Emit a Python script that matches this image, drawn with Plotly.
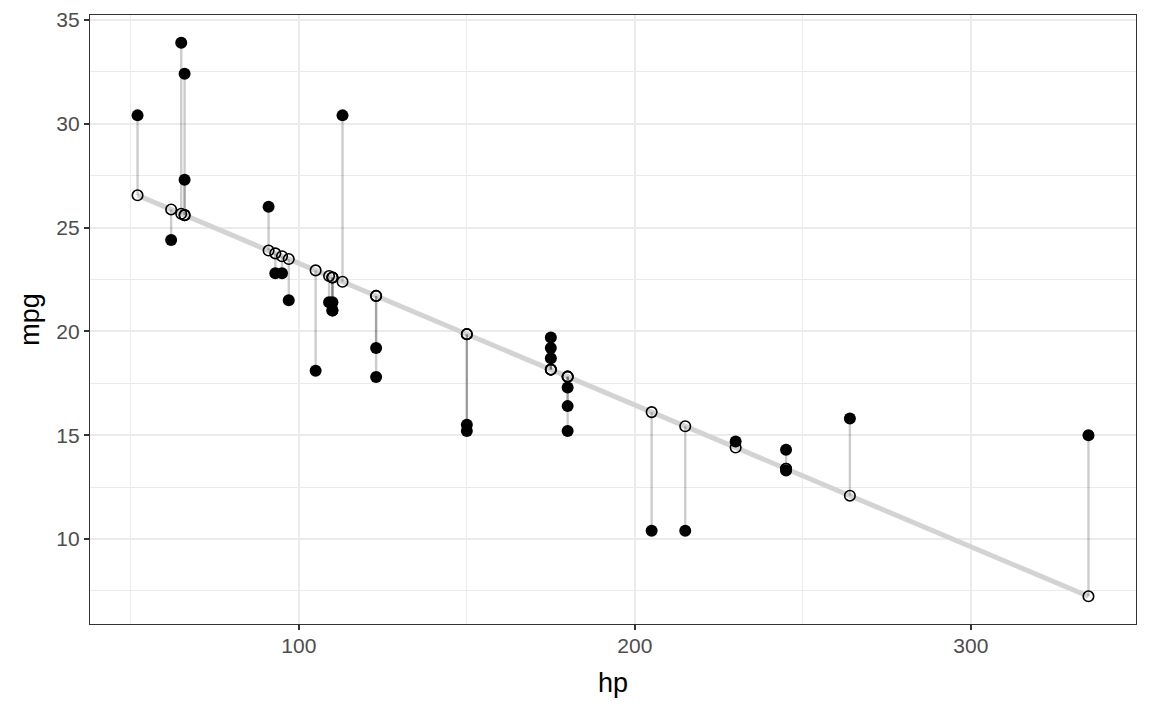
import plotly.graph_objects as go

# mtcars: potência (hp) e consumo (mpg)
hp = [110, 110, 93, 110, 175, 105, 245, 62, 95, 123, 123, 180, 180, 180, 205, 215,
      230, 66, 52, 65, 97, 150, 150, 245, 175, 66, 91, 113, 264, 175, 335, 109]
mpg = [21.0, 21.0, 22.8, 21.4, 18.7, 18.1, 14.3, 24.4, 22.8, 19.2, 17.8, 16.4, 17.3, 15.2,
       10.4, 10.4, 14.7, 32.4, 30.4, 33.9, 21.5, 15.5, 15.2, 13.3, 19.2, 27.3, 26.0, 30.4,
       15.8, 19.7, 15.0, 21.4]
# valores ajustados pela regressão linear mpg ~ hp
predicted = [22.594, 22.594, 23.754, 22.594, 18.159, 22.935, 13.383, 25.869, 23.617, 21.707,
             21.707, 17.818, 17.818, 17.818, 16.112, 15.430, 14.406, 25.596, 26.551, 25.664,
             23.481, 19.865, 19.865, 13.383, 18.159, 25.596, 23.890, 22.389, 12.086, 18.159,
             7.242, 22.662]

fig = go.Figure()

# Linha da regressão (cinza claro, grossa)
order = sorted(range(len(hp)), key=lambda i: hp[i])
fig.add_trace(go.Scatter(
    x=[hp[i] for i in order],
    y=[predicted[i] for i in order],
    mode='lines',
    line=dict(color='lightgrey', width=5),
    hoverinfo='skip'
))

# Segmentos dos resíduos
seg_x, seg_y = [], []
for h, m, p in zip(hp, mpg, predicted):
    seg_x += [h, h, None]
    seg_y += [m, p, None]
fig.add_trace(go.Scatter(
    x=seg_x, y=seg_y,
    mode='lines',
    line=dict(color='rgba(0,0,0,0.2)', width=2.4),
    hoverinfo='skip'
))

# Pontos observados
fig.add_trace(go.Scatter(
    x=hp, y=mpg,
    mode='markers',
    marker=dict(color='black', size=12, line=dict(width=0))
))

# Pontos previstos (círculos abertos)
fig.add_trace(go.Scatter(
    x=hp, y=predicted,
    mode='markers',
    marker=dict(symbol='circle-open', color='black', size=10.5, line=dict(width=1.6))
))

axis_common = dict(
    showline=True, linecolor='#333333', linewidth=1.2, mirror=True,
    ticks='outside', ticklen=5, tickwidth=1.5, tickcolor='#333333',
    tickfont=dict(family='Liberation Sans, Arial', size=21, color='#4d4d4d'),
    showgrid=True, gridcolor='#ebebeb', gridwidth=2,
    zeroline=False, automargin=False,
)

# a página tem uma margem de ~8px no body, por isso a figura é um pouco menor
fig.update_layout(
    width=1144, height=703,
    showlegend=False,
    plot_bgcolor='white', paper_bgcolor='white',
    margin=dict(l=82, r=16, t=7, b=87),
    font=dict(family='Liberation Sans, Arial', color='black'),
    xaxis=dict(
        axis_common,
        range=[37.85, 349.15], tickvals=[100, 200, 300],
        ticklabelstandoff=-2,
        minor=dict(tickvals=[50, 150, 250], showgrid=True, gridcolor='#ebebeb', gridwidth=1, ticks=''),
        title=dict(text='hp', font=dict(size=27, color='black'), standoff=16),
    ),
    yaxis=dict(
        axis_common,
        range=[5.909, 35.233], tickvals=[10, 15, 20, 25, 30, 35],
        minor=dict(tickvals=[7.5, 12.5, 17.5, 22.5, 27.5, 32.5], showgrid=True,
                   gridcolor='#ebebeb', gridwidth=1, ticks=''),
        title=dict(text='mpg', font=dict(size=27, color='black'), standoff=8),
    ),
)

fig.write_html("out.html")
